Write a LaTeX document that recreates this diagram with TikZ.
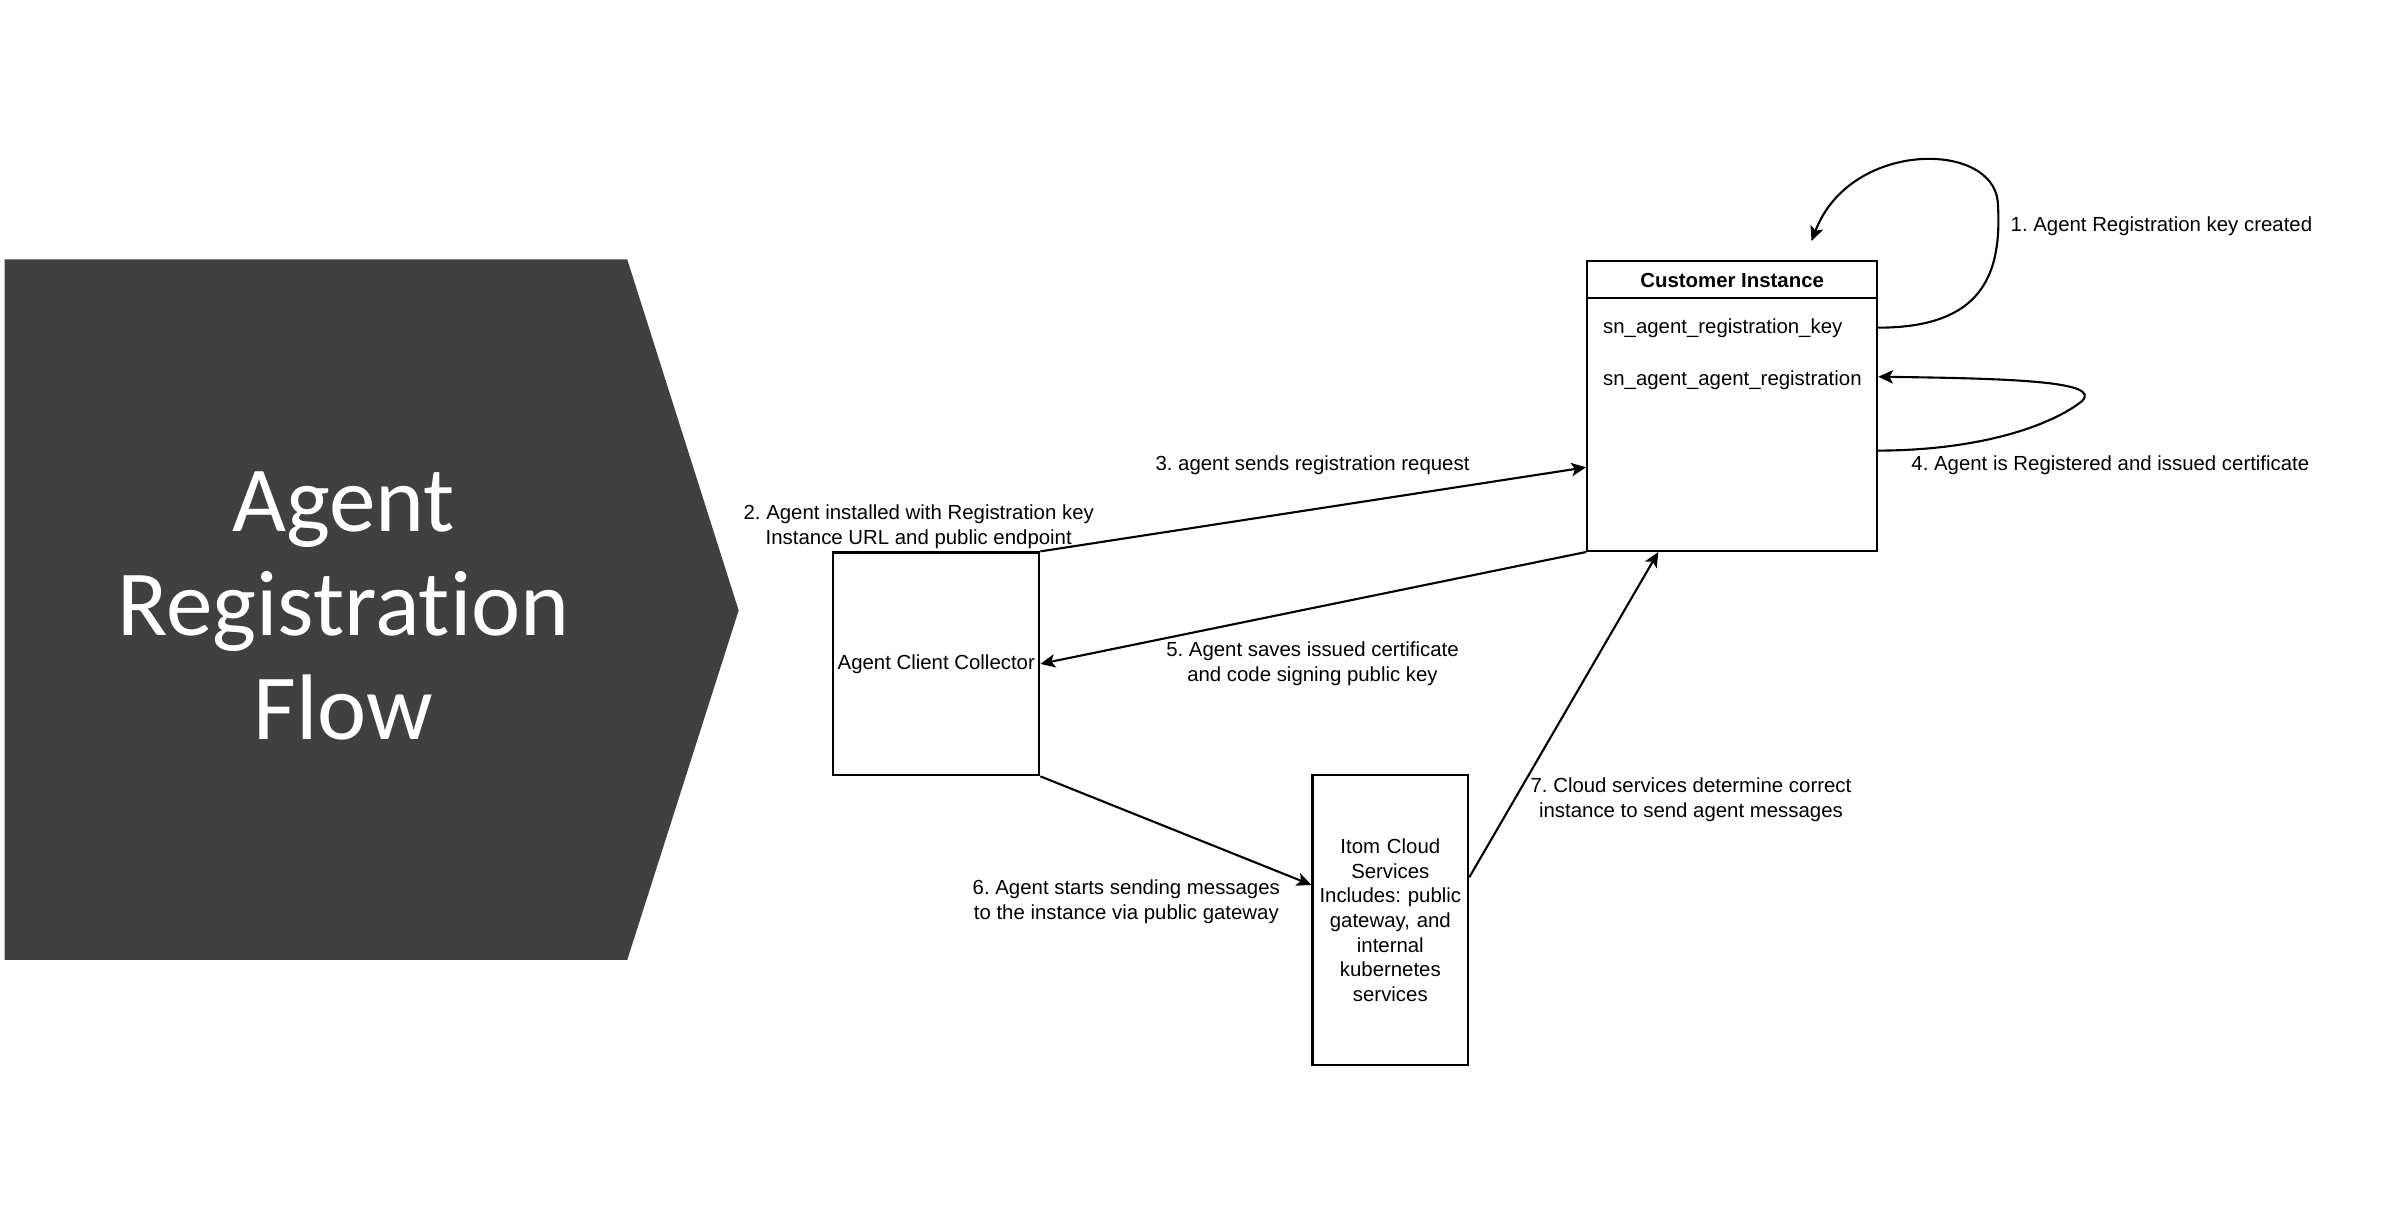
\documentclass[tikz,border=0pt]{standalone}
\usepackage{fontspec}
\setmainfont{Liberation Sans}
\newfontfamily\chevfont[Ligatures={NoCommon}]{Carlito}
\usetikzlibrary{arrows.meta,calc}
\definecolor{chev}{RGB}{64,64,64}
\frenchspacing
\begin{document}
\begin{tikzpicture}[x=0.01526cm,y=-0.01526cm,
  box/.style={draw, line width=0.6pt, inner sep=0pt},
  lbl/.style={font=\fontsize{5.8}{7.2}\selectfont, inner sep=0pt, align=center},
  conn/.style={line width=0.6pt, -{Stealth[length=4.2pt,width=3.8pt,inset=1pt]}},
]
\useasboundingbox (0,0) rectangle (1568,791);
% chevron
\fill[chev] (3,170) -- (411,170) -- (484,400) -- (411,629) -- (3,629) -- cycle;
\node[font=\chevfont\fontsize{26.5}{29.6}\selectfont, text=white, align=center, inner sep=0pt] (title) at (225,397) {Agent\\Registration\\Flow};

% boxes
\node[box, minimum width=2.899cm, minimum height=2.899cm] (ci) at (1135,266) {};
\coordinate (hl) at (1040,195);
\coordinate (hr) at (1230,195);
\draw[line width=0.6pt] (hl) -- (hr);
\node[lbl, font={\fontsize{5.8}{7.2}\selectfont\bfseries}] (cihead) at (1135,184) {Customer Instance};
\node[lbl, anchor=west] (key) at (1050,215) {sn\_agent\_registration\_key};
\node[lbl, anchor=west] (reg) at (1050,249) {sn\_agent\_agent\_registration};

\node[box, minimum width=2.06cm, minimum height=2.228cm, font=\fontsize{5.8}{7.2}\selectfont] (acc) at (613.5,435) {Agent Client Collector};
\node[box, minimum width=1.557cm, minimum height=2.899cm, text width=1.5cm, align=center, font=\fontsize{5.8}{7}\selectfont] (itom) at (911,603) {Itom Cloud\\Services\\Includes: public\\gateway, and\\internal\\kubernetes\\services};

% connectors
\draw[conn] (acc.north east) -- ($(ci.north west)!0.71!(ci.south west)$);
\draw[conn] (ci.south west) -- (acc.east);
\draw[conn] (acc.south east) -- ($(itom.north west)!0.379!(itom.south west)$);
\draw[conn] ($(itom.north east)!0.353!(itom.south east)$) -- ($(ci.south west)!0.247!(ci.south east)$);
\coordinate (l1end) at (1187,158);
\draw[conn] ($(ci.north east)!0.232!(ci.south east)$) .. controls +(70,0) and (1312,178) .. (1309,132) .. controls (1305,92) and (1212,92) .. (l1end);
\draw[conn] ($(ci.north east)!0.653!(ci.south east)$) .. controls (1300,295) and (1345,278) .. (1364,263) .. controls (1378,250) and (1320,248) .. ($(ci.north east)!0.4!(ci.south east)$);

% labels
\node[lbl, anchor=west] (l1) at (1317,148) {1. Agent Registration key created};
\node[lbl, anchor=west] (l4) at (1252,305) {4. Agent is Registered and issued certificate};
\node[lbl] (l3) at (860,305) {3. agent sends registration request};
\node[lbl] (l2) at (602,345) {2. Agent installed with Registration key\\Instance URL and public endpoint};
\node[lbl] (l5) at (860,435) {5. Agent saves issued certificate\\and code signing public key};
\node[lbl] (l6) at (738,591) {6. Agent starts sending messages\\to the instance via public gateway};
\node[lbl] (l7) at (1108,524) {7. Cloud services determine correct\\instance to send agent messages};
\end{tikzpicture}
\end{document}
